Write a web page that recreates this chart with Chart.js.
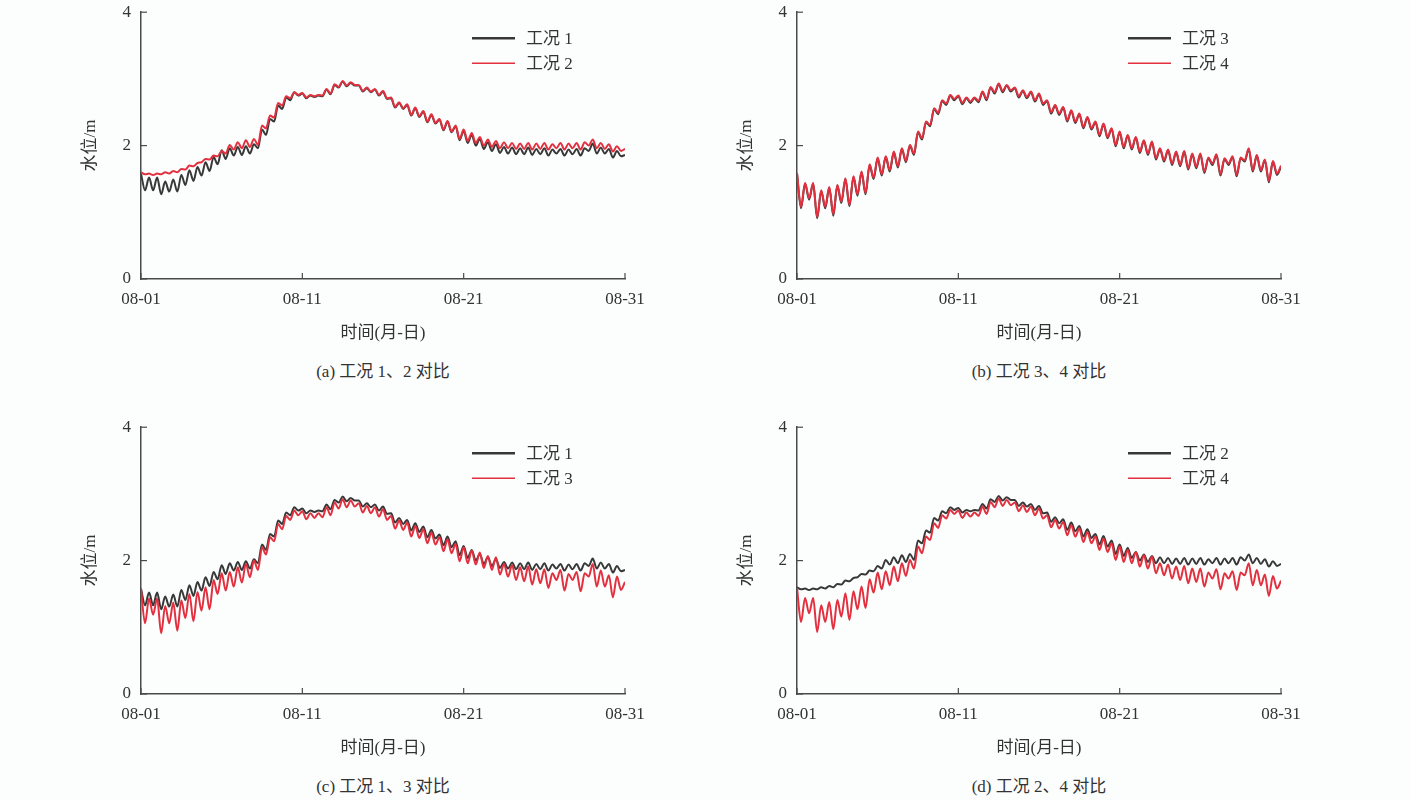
<!DOCTYPE html>
<html>
<head>
<meta charset="utf-8">
<script src="https://cdn.jsdelivr.net/npm/chart.js@4.4.1/dist/chart.umd.min.js"></script>
<style>
  body { margin: 0; background: #fcfdfd; }
  #page { position: relative; width: 1410px; height: 800px; overflow: hidden; }
  .panel { position: absolute; }
  .caption {
    position: absolute; width: 484px; text-align: center;
    font: 17px 'Liberation Serif', 'Noto Sans CJK SC', serif; color: #333;
  }
</style>
</head>
<body>
<div id="page"></div>
<script>
// Data: water level (m), sampled every 6 hours from 08-01 to 08-31
const sampleStep = 0.25; // days
const tickDays = [0, 10, 20, 30];
const tickLabels = ['08-01', '08-11', '08-21', '08-31'];
const yTicks = [0, 2, 4];

const caseOne = [
  1.58, 1.33, 1.52, 1.33, 1.52, 1.27, 1.46, 1.31, 1.49, 1.31,
  1.56, 1.41, 1.63, 1.47, 1.68, 1.55, 1.75, 1.62, 1.83, 1.72,
  1.93, 1.80, 1.96, 1.85, 1.98, 1.86, 1.99, 1.88, 2.02, 1.96,
  2.24, 2.16, 2.40, 2.36, 2.60, 2.55, 2.72, 2.68, 2.80, 2.75,
  2.78, 2.71, 2.75, 2.73, 2.75, 2.74, 2.84, 2.77, 2.91, 2.87,
  2.96, 2.89, 2.94, 2.90, 2.90, 2.81, 2.86, 2.80, 2.84, 2.75,
  2.81, 2.70, 2.71, 2.57, 2.64, 2.55, 2.61, 2.45, 2.56, 2.43,
  2.51, 2.35, 2.46, 2.33, 2.39, 2.23, 2.36, 2.20, 2.29, 2.08,
  2.22, 2.04, 2.16, 2.00, 2.10, 1.95, 2.05, 1.92, 2.02, 1.89,
  1.98, 1.88, 1.97, 1.87, 1.96, 1.87, 1.97, 1.86, 1.95, 1.87,
  1.96, 1.85, 1.94, 1.88, 1.95, 1.85, 1.94, 1.87, 1.95, 1.85,
  1.96, 1.92, 2.03, 1.88, 1.97, 1.88, 1.95, 1.82, 1.92, 1.84,
  1.86
];
const caseTwo = [
  1.60, 1.57, 1.58, 1.56, 1.58, 1.57, 1.60, 1.58, 1.62, 1.60,
  1.65, 1.64, 1.70, 1.69, 1.74, 1.75, 1.80, 1.79, 1.85, 1.84,
  1.92, 1.88, 2.01, 1.94, 2.05, 1.96, 2.08, 1.98, 2.10, 2.01,
  2.30, 2.26, 2.45, 2.42, 2.64, 2.60, 2.74, 2.71, 2.80, 2.76,
  2.79, 2.72, 2.76, 2.74, 2.76, 2.75, 2.85, 2.78, 2.92, 2.88,
  2.97, 2.90, 2.95, 2.91, 2.91, 2.82, 2.87, 2.81, 2.85, 2.76,
  2.82, 2.71, 2.72, 2.58, 2.65, 2.56, 2.62, 2.46, 2.57, 2.44,
  2.52, 2.36, 2.47, 2.34, 2.40, 2.24, 2.37, 2.21, 2.30, 2.10,
  2.24, 2.07, 2.19, 2.04, 2.13, 2.00, 2.09, 1.98, 2.07, 1.96,
  2.05, 1.96, 2.04, 1.95, 2.03, 1.95, 2.04, 1.94, 2.03, 1.95,
  2.04, 1.94, 2.02, 1.96, 2.04, 1.94, 2.03, 1.96, 2.04, 1.94,
  2.05, 2.00, 2.09, 1.96, 2.04, 1.95, 2.02, 1.91, 1.99, 1.92,
  1.95
];
const caseThree = [
  1.58, 1.06, 1.43, 1.19, 1.43, 0.91, 1.32, 1.06, 1.37, 0.95,
  1.40, 1.14, 1.50, 1.09, 1.53, 1.25, 1.60, 1.27, 1.71, 1.50,
  1.81, 1.55, 1.83, 1.61, 1.90, 1.67, 1.95, 1.75, 2.00, 1.86,
  2.20, 2.09, 2.35, 2.29, 2.55, 2.47, 2.67, 2.61, 2.75, 2.68,
  2.74, 2.62, 2.71, 2.64, 2.71, 2.65, 2.80, 2.68, 2.87, 2.78,
  2.92, 2.80, 2.90, 2.81, 2.86, 2.72, 2.82, 2.71, 2.80, 2.66,
  2.77, 2.61, 2.67, 2.48, 2.60, 2.46, 2.57, 2.36, 2.52, 2.34,
  2.47, 2.26, 2.42, 2.24, 2.35, 2.14, 2.32, 2.11, 2.25, 1.99,
  2.20, 1.96, 2.15, 1.94, 2.12, 1.89, 2.07, 1.86, 2.05, 1.79,
  1.95, 1.76, 1.93, 1.71, 1.90, 1.69, 1.91, 1.64, 1.87, 1.66,
  1.87, 1.59, 1.81, 1.71, 1.86, 1.55, 1.80, 1.71, 1.83, 1.54,
  1.81, 1.76, 1.95, 1.61, 1.85, 1.61, 1.78, 1.45, 1.76, 1.56,
  1.68
];
const caseFour = [
  1.59, 1.08, 1.44, 1.21, 1.44, 0.93, 1.33, 1.08, 1.38, 0.97,
  1.41, 1.16, 1.51, 1.11, 1.54, 1.27, 1.61, 1.29, 1.72, 1.52,
  1.82, 1.57, 1.84, 1.63, 1.91, 1.69, 1.96, 1.77, 2.01, 1.88,
  2.21, 2.11, 2.36, 2.31, 2.56, 2.49, 2.68, 2.63, 2.76, 2.70,
  2.75, 2.64, 2.72, 2.66, 2.72, 2.67, 2.81, 2.70, 2.88, 2.80,
  2.93, 2.82, 2.91, 2.83, 2.87, 2.74, 2.83, 2.73, 2.81, 2.68,
  2.78, 2.63, 2.68, 2.50, 2.61, 2.48, 2.58, 2.38, 2.53, 2.36,
  2.48, 2.28, 2.43, 2.26, 2.36, 2.16, 2.33, 2.13, 2.26, 2.01,
  2.21, 1.98, 2.16, 1.96, 2.13, 1.91, 2.08, 1.88, 2.06, 1.81,
  1.96, 1.78, 1.94, 1.73, 1.91, 1.71, 1.92, 1.66, 1.88, 1.68,
  1.88, 1.61, 1.82, 1.73, 1.87, 1.57, 1.81, 1.73, 1.84, 1.56,
  1.82, 1.78, 1.96, 1.63, 1.86, 1.63, 1.79, 1.47, 1.77, 1.58,
  1.70
];

const caseNames = ['工况 1', '工况 2', '工况 3', '工况 4'];
const caseSeries = [caseOne, caseTwo, caseThree, caseFour];

// Panels: which two cases are compared, and the caption under each
const panelPairs = [[0, 1], [2, 3], [0, 2], [1, 3]];
const panelCaptions = ['(a) 工况 1、2 对比', '(b) 工况 3、4 对比', '(c) 工况 1、3 对比', '(d) 工况 2、4 对比'];
const panelLeft = [40, 696, 40, 696];
const panelTop = [0, 0, 415, 415];

const times = caseOne.map((v, i) => i * sampleStep);
const lineColors = ['#383838', '#e2303f'];
const fontFamily = "'Liberation Serif', 'Noto Sans CJK SC', serif";
const axisColor = '#4a4a4a';

// inward tick marks
const innerTicks = {
    id: 'innerTicks',
    afterDraw(chart) {
        const ctx = chart.ctx;
        const area = chart.chartArea;
        ctx.save();
        ctx.strokeStyle = axisColor;
        ctx.lineWidth = 1.2;
        chart.scales.x.ticks.forEach((t, i) => {
            const px = chart.scales.x.getPixelForTick(i);
            ctx.beginPath();
            ctx.moveTo(px, area.bottom);
            ctx.lineTo(px, area.bottom - 6);
            ctx.stroke();
        });
        chart.scales.y.ticks.forEach((t, i) => {
            const py = chart.scales.y.getPixelForTick(i);
            ctx.beginPath();
            ctx.moveTo(area.left, py);
            ctx.lineTo(area.left + 6, py);
            ctx.stroke();
        });
        ctx.restore();
    }
};

// legend inside the plot, top right
const insideLegend = {
    id: 'insideLegend',
    afterDraw(chart) {
        const ctx = chart.ctx;
        const area = chart.chartArea;
        ctx.save();
        ctx.font = '17px ' + fontFamily;
        ctx.textBaseline = 'middle';
        chart.data.datasets.forEach((ds, i) => {
            const y = area.top + 26 + i * 25;
            ctx.strokeStyle = ds.borderColor;
            ctx.lineWidth = i === 0 ? 2.4 : 1.4;
            ctx.beginPath();
            ctx.moveTo(area.right - 153, y);
            ctx.lineTo(area.right - 110, y);
            ctx.stroke();
            ctx.fillStyle = '#333';
            ctx.fillText(ds.label, area.right - 99, y + 1);
        });
        ctx.restore();
    }
};

const page = document.getElementById('page');
const canvasShift = 8; // chart area sits 20px below canvas top, plot top must be at 12

panelPairs.forEach((pair, p) => {
    const box = document.createElement('div');
    box.className = 'panel';
    box.style.left = panelLeft[p] + 'px';
    box.style.top = (panelTop[p] - canvasShift) + 'px';
    const canvas = document.createElement('canvas');
    canvas.width = 620;
    canvas.height = 350 + canvasShift;
    box.appendChild(canvas);
    page.appendChild(box);

    const cap = document.createElement('div');
    cap.className = 'caption';
    cap.textContent = panelCaptions[p];
    cap.style.left = (panelLeft[p] + 101) + 'px';
    cap.style.top = (panelTop[p] + 357) + 'px';
    page.appendChild(cap);

    new Chart(canvas.getContext('2d'), {
        type: 'line',
        data: {
            labels: times,
            datasets: pair.map((c, k) => ({
                label: caseNames[c],
                data: caseSeries[c],
                borderColor: lineColors[k],
                borderWidth: 2,
                pointRadius: 0,
                order: 1 - k, // red drawn on top
                cubicInterpolationMode: 'monotone',
                fill: false
            }))
        },
        options: {
            responsive: false,
            animation: false,
            devicePixelRatio: 1,
            layout: { padding: { top: 0, right: 35, bottom: 1, left: 0 } },
            plugins: {
                legend: { display: false },
                tooltip: { enabled: false }
            },
            scales: {
                x: {
                    type: 'linear',
                    min: 0,
                    max: 30,
                    afterBuildTicks: (scale) => {
                        scale.ticks = tickDays.map(v => ({ value: v }));
                    },
                    afterFit: (scale) => { scale.height = 70; },
                    grid: { display: false, drawTicks: false },
                    border: { display: true, color: axisColor, width: 1.5 },
                    ticks: {
                        padding: 10,
                        maxRotation: 0,
                        color: '#333',
                        font: { family: fontFamily, size: 17 },
                        callback: (v) => tickLabels[tickDays.indexOf(v)]
                    },
                    title: {
                        display: true,
                        text: '时间(月-日)',
                        color: '#333',
                        font: { family: fontFamily, size: 17 },
                        padding: { top: 0, bottom: 5 }
                    }
                },
                y: {
                    min: 0,
                    max: 4,
                    afterBuildTicks: (scale) => {
                        scale.ticks = yTicks.map(v => ({ value: v }));
                    },
                    afterFit: (scale) => { scale.width = 101; },
                    grid: { display: false, drawTicks: false },
                    border: { display: true, color: axisColor, width: 1.5 },
                    ticks: {
                        padding: 10,
                        color: '#333',
                        font: { family: fontFamily, size: 17 }
                    },
                    title: {
                        display: true,
                        text: '水位/m',
                        color: '#333',
                        font: { family: fontFamily, size: 17 },
                        padding: { top: 40, bottom: 0 }
                    }
                }
            }
        },
        plugins: [innerTicks, insideLegend]
    });
});
</script>
</body>
</html>
